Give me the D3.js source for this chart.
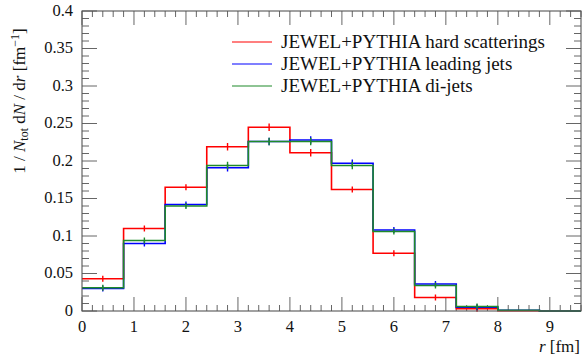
<!DOCTYPE html>
<html lang="en">
<head>
  <meta charset="UTF-8">
  <title>Jet production point distribution</title>
  <script src="https://d3js.org/d3.v7.min.js"></script>
  <style>
    body { margin: 0; background: #fff; }
    svg { display: block; }
    svg text { font-family: 'Liberation Serif', 'Times New Roman', 'DejaVu Serif', serif; }
  </style>
</head>
<body>
<div id="chart"></div>
<script>
  // bin edges in fm (width 0.8)
  const binEdges = [0, 0.8, 1.6, 2.4, 3.2, 4.0, 4.8, 5.6, 6.4, 7.2, 8.0, 8.8, 9.6];

  const seriesNames = ["JEWEL+PYTHIA hard scatterings", "JEWEL+PYTHIA leading jets", "JEWEL+PYTHIA di-jets"];
  const seriesColors = ["#ff0000", "#0000ff", "#1f8a2a"];

  const hardScatterings = [0.043, 0.110, 0.165, 0.219, 0.245, 0.211, 0.162, 0.077, 0.018, 0.003, 0.0003, 0];
  const leadingJets     = [0.030, 0.090, 0.142, 0.191, 0.226, 0.228, 0.197, 0.108, 0.036, 0.005, 0.001, 0];
  const diJets          = [0.031, 0.094, 0.140, 0.194, 0.226, 0.226, 0.194, 0.106, 0.034, 0.006, 0.001, 0];

  const hardErr    = [0.003, 0.004, 0.004, 0.005, 0.005, 0.005, 0.004, 0.003, 0.002, 0.001, 0, 0];
  const leadingErr = [0.002, 0.004, 0.004, 0.005, 0.005, 0.005, 0.005, 0.003, 0.002, 0.001, 0, 0];
  const diErr      = [0.002, 0.004, 0.004, 0.005, 0.005, 0.005, 0.005, 0.003, 0.002, 0.001, 0, 0];

  const xTickValues = [0, 1, 2, 3, 4, 5, 6, 7, 8, 9];
  const yTickValues = [0, 0.05, 0.1, 0.15, 0.2, 0.25, 0.3, 0.35, 0.4];
  const yTickLabels = ["0", "0.05", "0.1", "0.15", "0.2", "0.25", "0.3", "0.35", "0.4"];

  const series = [
    { name: seriesNames[0], color: seriesColors[0], values: hardScatterings, err: hardErr },
    { name: seriesNames[1], color: seriesColors[1], values: leadingJets, err: leadingErr },
    { name: seriesNames[2], color: seriesColors[2], values: diJets, err: diErr }
  ];

  const width = 582, height = 357;
  const margin = { top: 11, right: 1, bottom: 46, left: 82 };
  const plotW = width - margin.left - margin.right;
  const plotH = height - margin.top - margin.bottom;
  const serif = "'Liberation Serif', 'Times New Roman', 'DejaVu Serif', serif";

  const svg = d3.select("#chart").append("svg")
    .attr("width", width)
    .attr("height", height)
    .attr("font-family", serif);

  const g = svg.append("g").attr("transform", `translate(${margin.left},${margin.top})`);

  const x = d3.scaleLinear().domain([0, 9.6]).range([0, plotW]);
  const y = d3.scaleLinear().domain([0, 0.4]).range([plotH, 0]);

  const tickColor = "#555";

  // minor and major ticks, inward on all four sides
  const xMinor = d3.range(0, 9.61, 0.2).filter(v => Math.abs(v - Math.round(v)) > 1e-6);
  const yMinor = d3.range(0, 0.401, 0.01).filter(v => Math.abs(v * 20 - Math.round(v * 20)) > 1e-6);

  function tickLines(vals, len, horizontal) {
    vals.forEach(v => {
      if (horizontal) {
        g.append("line").attr("x1", x(v)).attr("x2", x(v)).attr("y1", plotH).attr("y2", plotH - len)
          .attr("stroke", tickColor).attr("stroke-width", 0.9);
        g.append("line").attr("x1", x(v)).attr("x2", x(v)).attr("y1", 0).attr("y2", len)
          .attr("stroke", tickColor).attr("stroke-width", 0.9);
      } else {
        g.append("line").attr("x1", 0).attr("x2", len).attr("y1", y(v)).attr("y2", y(v))
          .attr("stroke", tickColor).attr("stroke-width", 0.9);
        g.append("line").attr("x1", plotW).attr("x2", plotW - len).attr("y1", y(v)).attr("y2", y(v))
          .attr("stroke", tickColor).attr("stroke-width", 0.9);
      }
    });
  }
  tickLines(xMinor, 6, true);
  tickLines(xTickValues, 14, true);
  tickLines(yMinor, 7, false);
  tickLines(yTickValues, 15, false);

  // tick labels
  g.selectAll(".xlab").data(xTickValues).join("text")
    .attr("font-family", serif)
    .attr("x", d => x(d)).attr("y", plotH + 21)
    .attr("text-anchor", "middle").attr("font-size", 16.5).attr("fill", "#111")
    .text(d => d);

  g.selectAll(".ylab").data(yTickValues).join("text")
    .attr("font-family", serif)
    .attr("x", -9).attr("y", d => y(d) + 4.5)
    .attr("text-anchor", "end").attr("font-size", 16.5).attr("fill", "#111")
    .text((d, i) => yTickLabels[i]);

  // histograms
  const line = d3.line()
    .x(d => x(d[0]))
    .y(d => y(d[1]))
    .curve(d3.curveStepAfter);

  series.forEach(s => {
    const pts = s.values.map((v, i) => [binEdges[i], v]);
    pts.push([binEdges[binEdges.length - 1], s.values[s.values.length - 1]]);
    g.append("path")
      .attr("d", line(pts))
      .attr("fill", "none")
      .attr("stroke", s.color)
      .attr("stroke-width", 1.6);

    s.values.forEach((v, i) => {
      const c = (binEdges[i] + binEdges[i + 1]) / 2;
      const e = Math.max(s.err[i], 0.004);
      if (v <= 0.002) return;
      g.append("line")
        .attr("x1", x(c)).attr("x2", x(c))
        .attr("y1", y(v - e)).attr("y2", y(v + e))
        .attr("stroke", s.color).attr("stroke-width", 1.4);
    });
  });

  // frame
  g.append("rect").attr("width", plotW).attr("height", plotH)
    .attr("fill", "none").attr("stroke", "#555").attr("stroke-width", 1.1);

  // legend
  const legend = svg.append("g").attr("transform", "translate(232,42)");
  series.forEach((s, i) => {
    const row = legend.append("g").attr("transform", `translate(0,${i * 22})`);
    row.append("line").attr("x1", 0).attr("x2", 40).attr("y1", 0).attr("y2", 0)
      .attr("stroke", s.color).attr("stroke-width", 1.2);
    row.append("text").attr("x", 49).attr("y", 6)
      .attr("font-family", serif)
      .attr("font-size", 19).attr("fill", "#111")
      .text(s.name);
  });

  // x axis label
  const xl = svg.append("text")
    .attr("font-family", serif)
    .attr("x", width - 2).attr("y", 352)
    .attr("text-anchor", "end").attr("font-size", 17).attr("fill", "#111");
  xl.append("tspan").attr("font-style", "italic").text("r");
  xl.append("tspan").text(" [fm]");

  // y axis label
  const yl = svg.append("text")
    .attr("font-family", serif)
    .attr("transform", "translate(25,101) rotate(-90)")
    .attr("text-anchor", "middle").attr("font-size", 17).attr("fill", "#111");
  yl.append("tspan").text("1 / ");
  yl.append("tspan").attr("font-style", "italic").text("N");
  yl.append("tspan").attr("font-size", 12).attr("dy", 3).text("tot");
  yl.append("tspan").attr("dy", -3).text(" d");
  yl.append("tspan").attr("font-style", "italic").text("N");
  yl.append("tspan").text(" / d");
  yl.append("tspan").attr("font-style", "italic").text("r");
  yl.append("tspan").text(" [fm");
  yl.append("tspan").attr("font-size", 12).attr("dy", -6).text("\u22121");
  yl.append("tspan").attr("dy", 6).text("]");
</script>
</body>
</html>
